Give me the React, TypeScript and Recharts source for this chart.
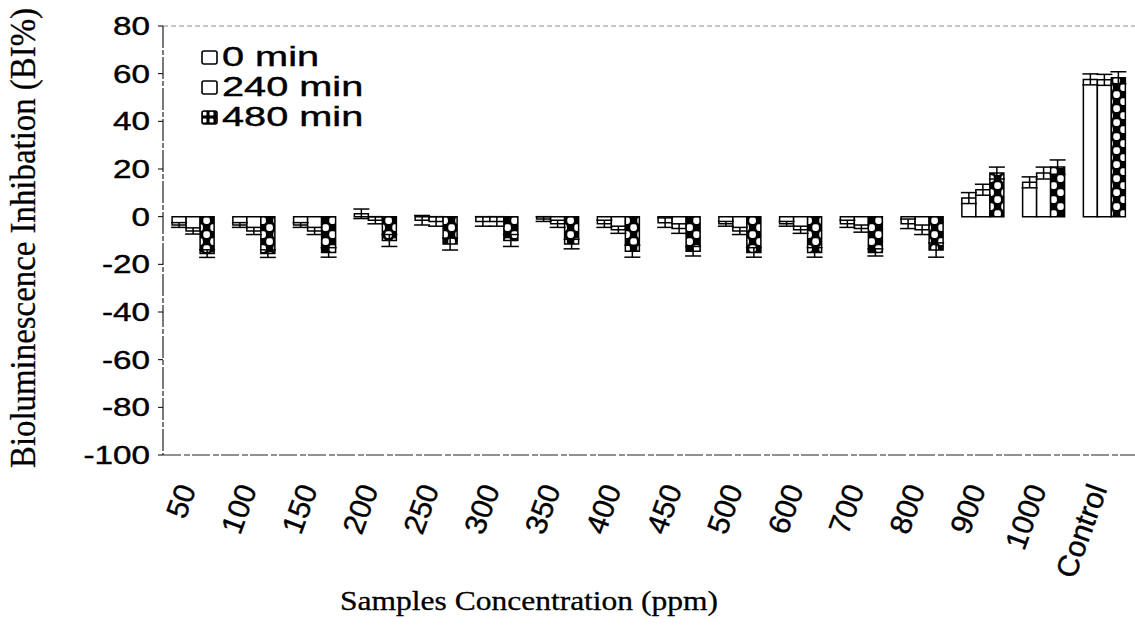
import React from 'react';
import { BarChart, Bar, XAxis, YAxis, ErrorBar, ReferenceLine, Label } from 'recharts';

const categories = ['50', '100', '150', '200', '250', '300', '350', '400', '450', '500', '600', '700', '800', '900', '1000', 'Control'];
const min0 = [-3.5, -3.5, -3.5, 1.2, -1.5, -2, -1, -3, -2.5, -3, -3, -3, -3, 7.8, 14.4, 57.6];
const min240 = [-6, -6, -6, -1.5, -2, -2, -3, -5.5, -5, -6, -5.5, -5, -5.5, 11.3, 18.3, 57.4];
const min480 = [-15.5, -15.5, -15, -10, -11.5, -10, -11.5, -14.5, -14.5, -15, -15, -15, -14, 18.3, 20.8, 58.3];
const err0 = [1, 1, 1, 2, 2, 2, 1, 1.5, 2, 1, 1, 1.5, 2, 2.3, 2.3, 2.3];
const err240 = [1.3, 1.5, 1.5, 1.5, 2, 2, 1.5, 1.5, 2, 1.5, 1.5, 1.5, 2, 2.3, 2.5, 2.3];
const err480 = [1.6, 1.6, 2, 2.5, 2.5, 2.5, 2, 2.5, 2, 2, 2, 1.5, 3, 2.5, 3, 2.5];
const yTicks = [80, 60, 40, 20, 0, -20, -40, -60, -80, -100];
const seriesNames = ['0 min', '240 min', '480 min'];

const data = categories.map((cat, i) => ({
  cat,
  m0: min0[i],
  m240: min240[i],
  m480: min480[i],
  e0: err0[i],
  e240: err240[i],
  e480: err480[i],
}));

const SANS = '"Liberation Sans", Arial, sans-serif';
const SERIF = '"Liberation Serif", "Times New Roman", serif';

const YTick = (props: any) => {
  const { x, y, payload } = props;
  return (
    <text
      x={0}
      y={0}
      transform={`translate(${x},${y}) scale(1.33,1)`}
      textAnchor="end"
      dominantBaseline="central"
      fontFamily={SANS}
      fontSize={25}
      fill="#000"
      stroke="#000"
      strokeWidth={0.4}
    >
      {payload.value}
    </text>
  );
};

const XTick = (props: any) => {
  const { x, y, payload } = props;
  return (
    <text
      x={0}
      y={0}
      transform={`translate(${x + 3},${y + 26}) rotate(-70)`}
      textAnchor="end"
      dominantBaseline="alphabetic"
      fontFamily={SANS}
      fontSize={30}
      fill="#000"
      stroke="#000"
      strokeWidth={0.4}
    >
      {payload.value}
    </text>
  );
};

const LegendBox = ({ pattern }: { pattern: boolean }) => (
  <svg width={17} height={15} style={{ display: 'block' }}>
    <defs>
      <pattern id="legchk" width="7" height="7" patternUnits="userSpaceOnUse" x="1" y="1">
        <rect width="7" height="7" fill="#000" />
        <rect x="0.5" y="0.5" width="4" height="4" rx="1.2" fill="#fff" />
      </pattern>
    </defs>
    <rect x={1} y={1} width={15} height={13} rx={2} fill={pattern ? 'url(#legchk)' : '#fff'} stroke="#000" strokeWidth={1.6} />
  </svg>
);

const LegendOverlay = () => (
  <div style={{ position: 'absolute', left: 201, top: 42, display: 'flex', flexDirection: 'column' }}>
    {seriesNames.map((n, i) => (
      <div key={n} style={{ display: 'flex', alignItems: 'center', height: 30 }}>
        <LegendBox pattern={i === 2} />
        <span
          style={{
            fontFamily: SANS,
            fontSize: 27,
            color: '#000',
            marginLeft: 4,
            display: 'inline-block',
            transform: 'scaleX(1.47)',
            transformOrigin: 'left center',
            whiteSpace: 'nowrap',
            lineHeight: '30px',
            WebkitTextStroke: '0.4px #000',
          }}
        >
          {n}
        </span>
      </div>
    ))}
  </div>
);

export default function App() {
  return (
    <div style={{ position: 'absolute', left: 0, top: 0, width: 1135, height: 629, background: '#fff' }}>
      <BarChart
        width={1135}
        height={629}
        data={data}
        margin={{ top: 26, right: 0, left: 0, bottom: 0 }}
        barCategoryGap="15%"
        barGap={0}
      >
        <defs>
          <pattern id="checker" width="14" height="14" patternUnits="userSpaceOnUse">
            <rect width="14" height="14" fill="#000" />
            <rect x="0.3" y="0.3" width="6.6" height="6.6" rx="2.4" fill="#fff" />
            <rect x="7.3" y="7.3" width="6.6" height="6.6" rx="2.4" fill="#fff" />
          </pattern>
        </defs>
        <XAxis
          dataKey="cat"
          height={174}
          interval={0}
          tickLine={false}
          axisLine={{ stroke: '#222', strokeWidth: 1.2, strokeDasharray: '18 3 6 2' }}
          tick={<XTick />}
        >
          <Label
            content={() => (
              <text
                x={529}
                y={610}
                textAnchor="middle"
                fontFamily={SERIF}
                fontSize={27}
                textLength={378}
                lengthAdjust="spacingAndGlyphs"
                fill="#000"
                stroke="#000"
                strokeWidth={0.3}
              >
                Samples Concentration (ppm)
              </text>
            )}
          />
        </XAxis>
        <YAxis
          width={163}
          domain={[-100, 80]}
          ticks={yTicks}
          interval={0}
          allowDataOverflow
          tickSize={5}
          tickMargin={8}
          tickLine={{ stroke: '#000' }}
          axisLine={{ stroke: '#222', strokeWidth: 1.2, strokeDasharray: '22 2 5 2' }}
          tick={<YTick />}
        >
          <Label
            content={() => (
              <text
                x={0}
                y={0}
                transform="translate(23,238) scale(1.5,1) rotate(-90)"
                textAnchor="middle"
                dominantBaseline="central"
                fontFamily={SERIF}
                fontSize={24}
                textLength={460}
                lengthAdjust="spacingAndGlyphs"
                fill="#000"
                stroke="#000"
                strokeWidth={0.2}
              >
                Bioluminescence Inhibation (BI%)
              </text>
            )}
          />
        </YAxis>
        <ReferenceLine y={80} stroke="#888" strokeDasharray="5 3" />
        <Bar dataKey="m0" name={seriesNames[0]} fill="#fff" stroke="#000" strokeWidth={1.5} isAnimationActive={false}>
          <ErrorBar dataKey="e0" width={8} stroke="#000" strokeWidth={1.5} direction="y" />
        </Bar>
        <Bar dataKey="m240" name={seriesNames[1]} fill="#fff" stroke="#000" strokeWidth={1.5} isAnimationActive={false}>
          <ErrorBar dataKey="e240" width={8} stroke="#000" strokeWidth={1.5} direction="y" />
        </Bar>
        <Bar dataKey="m480" name={seriesNames[2]} fill="url(#checker)" stroke="#000" strokeWidth={1.5} isAnimationActive={false}>
          <ErrorBar dataKey="e480" width={8} stroke="#000" strokeWidth={1.5} direction="y" />
        </Bar>
      </BarChart>
      <LegendOverlay />
    </div>
  );
}
